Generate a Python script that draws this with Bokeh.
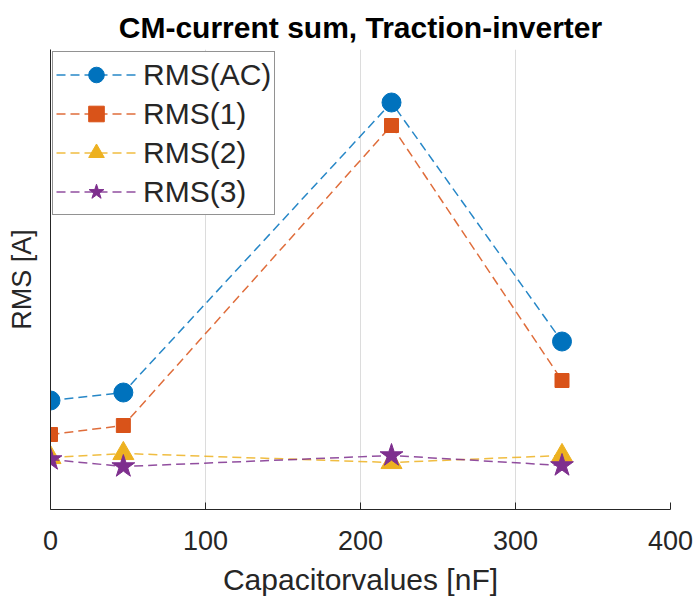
from bokeh.plotting import figure
from bokeh.models import Legend, LegendItem, FixedTicker, Range1d
from bokeh.embed import file_html
from bokeh.resources import INLINE

# Capacitor values [nF]
capacitance = [0, 47, 220, 330]

# RMS values of the CM-current sum (arbitrary scale, no y tick labels)
rms_ac = [1.09, 1.17, 4.07, 1.68]
rms_1 = [0.75, 0.84, 3.84, 1.29]
rms_2 = [0.52, 0.56, 0.47, 0.54]
rms_3 = [0.50, 0.43, 0.54, 0.44]

x_ticks = [0, 100, 200, 300, 400]

series = [
    ("RMS(AC)", rms_ac, "#0072BD", "circle", 19),
    ("RMS(1)", rms_1, "#D95319", "square", 14),
    ("RMS(2)", rms_2, "#EDB120", "triangle", 21),
    ("RMS(3)", rms_3, "#7E2F8E", "star", 24),
]

FONT = "Liberation Sans"
AXIS_COLOR = "#262626"

p = figure(
    width=695, height=601,
    x_range=Range1d(0, 400), y_range=Range1d(0, 4.6),
    output_backend="svg", toolbar_location=None,
    min_border_left=50, min_border_right=25,
    min_border_top=49, min_border_bottom=92,
)
p.outline_line_color = None
p.background_fill_color = "white"
p.border_fill_color = "white"

p.title.text = "CM-current sum, Traction-inverter"
p.title.text_font = FONT
p.title.text_font_size = "30px"
p.title.text_font_style = "bold"
p.title.text_color = "#000000"
p.title.align = "center"
p.title.offset = 0
p.title.standoff = 12

# x axis
p.xaxis.ticker = FixedTicker(ticks=x_ticks)
p.xaxis.axis_label = "Capacitorvalues [nF]"
p.xaxis.axis_label_text_font = FONT
p.xaxis.axis_label_text_font_size = "30px"
p.xaxis.axis_label_text_font_style = "normal"
p.xaxis.axis_label_text_color = AXIS_COLOR
p.xaxis.axis_label_standoff = 10
p.xaxis.major_label_text_font = FONT
p.xaxis.major_label_text_font_size = "27px"
p.xaxis.major_label_text_color = AXIS_COLOR
p.xaxis.major_label_standoff = 21
p.xaxis.major_tick_in = 7
p.xaxis.major_tick_out = 0
p.xaxis.minor_tick_line_color = None
p.xaxis.axis_line_color = AXIS_COLOR
p.xaxis.major_tick_line_color = AXIS_COLOR

# y axis: label only, no ticks
p.yaxis.ticker = FixedTicker(ticks=[])
p.yaxis.major_label_text_font_size = "0px"
p.yaxis.major_tick_line_color = None
p.yaxis.minor_tick_line_color = None
p.yaxis.axis_line_color = AXIS_COLOR
p.yaxis.axis_label = "RMS [A]"
p.yaxis.axis_label_text_font = FONT
p.yaxis.axis_label_text_font_size = "27px"
p.yaxis.axis_label_text_font_style = "normal"
p.yaxis.axis_label_text_color = AXIS_COLOR
p.yaxis.axis_label_standoff = 14

p.xgrid.grid_line_color = "#dcdcdc"
p.xgrid.grid_line_width = 1
p.ygrid.grid_line_color = None

items = []
for name, vals, color, marker, size in series:
    ln = p.line(capacitance, vals, line_color=color, line_width=1.5,
                line_dash="9 5", line_alpha=0.85)
    sc = p.scatter(capacitance, vals, marker=marker, size=size,
                   fill_color=color, line_color=color)
    items.append(LegendItem(label=name, renderers=[ln, sc]))

legend = Legend(
    items=items, location="top_left",
    label_text_font=FONT, label_text_font_size="30px",
    label_text_color=AXIS_COLOR,
    glyph_width=80, glyph_height=39, label_height=39,
    spacing=0, padding=3, margin=2,
    border_line_color="#262626", border_line_width=1,
    background_fill_color="white", background_fill_alpha=1.0,
    label_standoff=7,
)
p.add_layout(legend)

open("out.html", "w").write(file_html(p, INLINE))
